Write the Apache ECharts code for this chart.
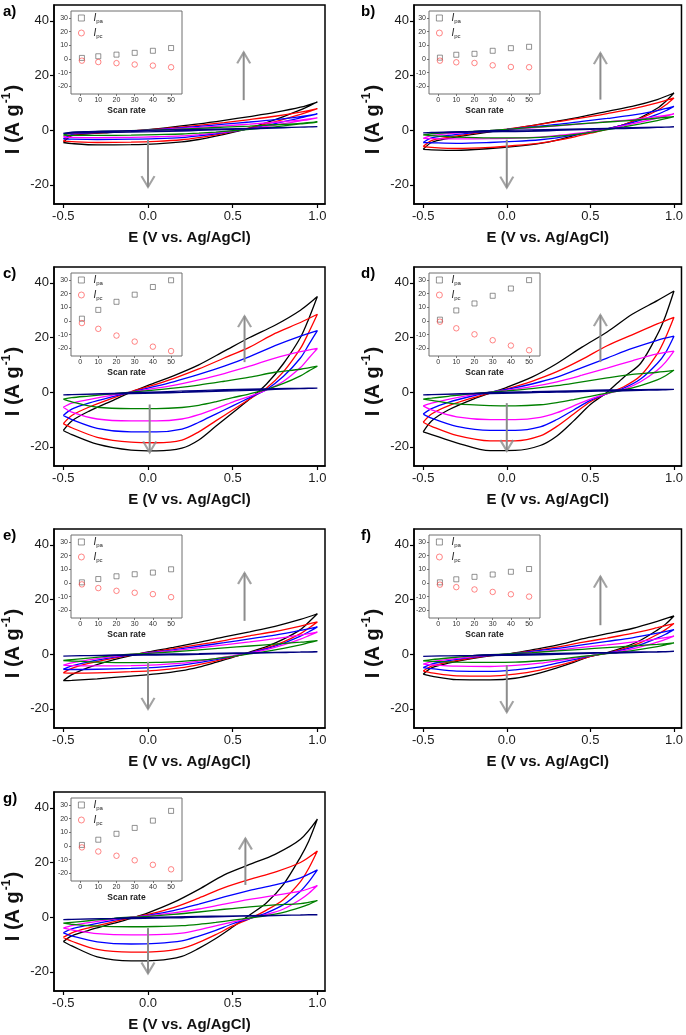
<!DOCTYPE html>
<html><head><meta charset="utf-8">
<script src="https://cdn.jsdelivr.net/npm/echarts@6/dist/echarts.min.js"></script>
<style>html,body{margin:0;padding:0;background:#fff}#c{width:686px;height:1035px}</style>
</head><body><div id="c"></div>
<script>
// ---------- shared axes / categories ----------
const FWD_X = [-0.5, -0.45, -0.35, -0.2, -0.1, 0, 0.15, 0.3, 0.45, 0.6, 0.75, 0.9, 1.0];
const REV_X = [0.95, 0.9, 0.8, 0.7, 0.6, 0.5, 0.4, 0.3, 0.2, 0.05, -0.1, -0.3, -0.45];
const CURVE_COLORS = ['#000080', '#008000', '#ff00ff', '#0000ff', '#ff0000', '#000000']; // 1,10,20,30,40,50
const SCAN_RATE = [1, 10, 20, 30, 40, 50];
const X_TICKS = [-0.5, 0, 0.5, 1.0];
const Y_TICKS = [-20, 0, 20, 40];
const INSET_X_TICKS = [0, 10, 20, 30, 40, 50];
const INSET_Y_TICKS = [-20, -10, 0, 10, 20, 30];
const PANEL_LABELS = ['a)', 'b)', 'c)', 'd)', 'e)', 'f)', 'g)'];

// ---------- panel a ----------
const A_FWD = [
  [-1.2, -0.7, -0.5, -0.3, -0.2, -0.1, 0.1, 0.3, 0.5, 0.7, 0.9, 1.1, 1.3],
  [-1.8, -0.9, -0.6, -0.4, -0.2, 0.0, 0.3, 0.7, 1.1, 1.5, 2.0, 2.5, 3.0],
  [-2.5, -1.2, -0.8, -0.5, -0.2, 0.0, 0.5, 1.0, 1.6, 2.2, 2.9, 3.7, 4.5],
  [-3.2, -1.5, -1.0, -0.6, -0.3, 0.0, 0.7, 1.4, 2.2, 3.0, 3.9, 5.0, 6.0],
  [-4.0, -1.8, -1.2, -0.7, -0.3, 0.1, 0.9, 1.8, 2.8, 3.9, 5.1, 6.6, 7.9],
  [-4.5, -2.0, -1.3, -0.8, -0.3, 0.2, 1.2, 2.3, 3.6, 5.0, 6.5, 8.4, 10.3]
];
const A_REV = [
  [1.2, 1.1, 0.9, 0.7, 0.5, 0.3, 0.1, -0.1, -0.3, -0.5, -0.7, -0.9, -1.1],
  [2.6, 2.3, 1.6, 0.9, 0.3, -0.2, -0.7, -1.1, -1.4, -1.6, -1.8, -1.9, -1.9],
  [3.9, 3.4, 2.4, 1.4, 0.5, -0.3, -1.0, -1.6, -2.1, -2.4, -2.6, -2.7, -2.6],
  [5.2, 4.5, 3.1, 1.8, 0.6, -0.4, -1.3, -2.1, -2.7, -3.1, -3.3, -3.4, -3.3],
  [6.8, 5.8, 4.0, 2.3, 0.8, -0.5, -1.7, -2.7, -3.5, -4.1, -4.4, -4.5, -4.2],
  [8.8, 7.4, 5.0, 2.8, 0.8, -0.8, -2.2, -3.4, -4.3, -5.0, -5.3, -5.4, -4.9]
];
const A_IPA = [0.8, 2.0, 3.2, 4.5, 6.0, 8.0];
const A_IPC = [-1.2, -2.2, -3.0, -4.0, -4.8, -6.0];
const A_ARROWS = [0.565, 11, 28.5, 0.0, -3.6, -20.8];

// ---------- panel b ----------
const B_FWD = [
  [-1.0, -0.8, -0.6, -0.4, -0.2, -0.1, 0.1, 0.3, 0.5, 0.7, 0.9, 1.1, 1.2],
  [-1.7, -1.3, -0.9, -0.4, -0.1, 0.3, 1.0, 1.7, 2.4, 3.0, 3.6, 4.4, 5.0],
  [-3.0, -2.0, -1.3, -0.6, -0.2, 0.2, 0.9, 1.6, 2.3, 3.1, 3.9, 5.0, 6.0],
  [-4.5, -2.8, -1.9, -0.9, -0.3, 0.3, 1.2, 2.1, 3.2, 4.3, 5.5, 7.2, 8.7],
  [-6.0, -3.8, -2.6, -1.2, -0.4, 0.4, 1.7, 3.1, 4.5, 6.1, 7.8, 10.0, 11.8],
  [-7.0, -4.5, -3.0, -1.5, -0.6, 0.2, 1.7, 3.3, 5.0, 6.9, 8.7, 11.2, 13.6]
];
const B_REV = [
  [1.1, 1.0, 0.8, 0.6, 0.5, 0.3, 0.1, -0.1, -0.3, -0.5, -0.6, -0.8, -0.9],
  [4.2, 3.5, 2.3, 1.2, 0.2, -0.8, -1.6, -2.2, -2.6, -2.8, -2.8, -2.5, -2.0],
  [5.1, 4.4, 3.0, 1.7, 0.5, -0.5, -1.3, -2.0, -2.5, -2.9, -3.1, -3.2, -3.1],
  [7.1, 5.8, 3.7, 1.9, 0.5, -0.7, -1.8, -2.8, -3.5, -4.1, -4.5, -4.8, -4.6],
  [9.2, 7.2, 4.3, 2.0, 0.3, -1.1, -2.5, -3.7, -4.7, -5.6, -6.3, -6.7, -6.3],
  [10.5, 8.0, 4.6, 2.0, 0.5, -0.5, -2.0, -3.6, -4.8, -5.9, -6.7, -7.4, -7.2]
];
const B_IPA = [1.0, 3.1, 3.8, 6.0, 7.9, 8.9];
const B_IPC = [-1.2, -2.4, -2.9, -4.6, -5.8, -6.0];
const B_ARROWS = [0.56, 11.2, 28.2, 0.0, -3.5, -21.0];

// ---------- panel c ----------
const C_FWD = [
  [-1.0, -0.9, -0.7, -0.4, -0.2, 0.0, 0.3, 0.6, 0.9, 1.1, 1.3, 1.4, 1.5],
  [-2.5, -2.0, -1.4, -0.5, 0.0, 0.6, 1.5, 2.6, 4.0, 5.5, 7.3, 8.4, 9.5],
  [-5.5, -4.0, -2.7, -1.0, 0.0, 1.0, 2.5, 4.5, 6.8, 9.5, 12.5, 14.8, 16.0],
  [-8.5, -6.2, -4.0, -1.5, 0.0, 1.5, 3.8, 6.5, 9.5, 13.0, 17.0, 20.5, 22.5],
  [-11.5, -8.5, -5.5, -2.0, 0.2, 2.0, 5.0, 8.5, 12.5, 16.5, 21.5, 25.5, 28.5],
  [-14.0, -10.5, -7.0, -2.8, 0.0, 2.5, 6.0, 10.0, 15.0, 20.0, 24.5, 30.0, 35.0]
];
const C_REV = [
  [1.4, 1.3, 1.1, 0.9, 0.7, 0.5, 0.3, 0.1, -0.1, -0.3, -0.5, -0.7, -0.9],
  [7.8, 6.0, 3.2, 1.0, -0.6, -2.0, -3.5, -4.8, -5.6, -6.0, -6.0, -5.5, -3.5],
  [12.5, 9.0, 4.0, 0.8, -1.5, -3.6, -6.0, -8.2, -9.8, -10.5, -10.5, -9.8, -7.3],
  [17.5, 12.5, 5.8, 1.0, -2.0, -5.0, -8.0, -11.0, -13.5, -14.5, -14.5, -13.2, -10.0],
  [22.0, 16.0, 7.5, 1.5, -2.5, -6.5, -10.5, -14.5, -17.5, -18.5, -18.3, -16.5, -13.0],
  [27.0, 20.0, 10.5, 3.0, -2.5, -7.5, -12.5, -17.5, -20.5, -21.5, -21.2, -19.0, -15.5]
];
const C_IPA = [1.7, 8.1, 14.0, 19.2, 24.8, 29.7];
const C_IPC = [-1.5, -5.7, -10.6, -15.0, -18.7, -21.9];
const C_ARROWS = [0.57, 11, 27.8, 0.01, -4.5, -22.0];

// ---------- panel d ----------
const D_FWD = [
  [-1.0, -0.9, -0.7, -0.4, -0.2, 0.0, 0.2, 0.4, 0.6, 0.8, 0.9, 1.0, 1.0],
  [-2.5, -2.2, -1.5, -0.5, 0.0, 0.5, 1.3, 2.4, 3.8, 5.2, 6.5, 7.3, 8.0],
  [-5.0, -4.0, -2.6, -0.9, 0.0, 0.7, 2.0, 3.8, 6.2, 8.8, 11.5, 14.0, 15.0],
  [-8.0, -6.0, -3.7, -1.3, 0.0, 1.0, 3.0, 5.5, 9.0, 12.5, 16.0, 19.0, 20.5],
  [-11.0, -8.0, -5.0, -2.0, -0.3, 1.2, 4.0, 7.5, 12.0, 17.0, 21.0, 25.0, 27.4],
  [-14.5, -10.5, -6.5, -2.5, -0.3, 1.8, 5.5, 10.5, 16.5, 22.0, 28.5, 33.5, 37.0]
];
const D_REV = [
  [0.9, 0.8, 0.7, 0.5, 0.4, 0.3, 0.1, 0.0, -0.1, -0.3, -0.5, -0.7, -0.9],
  [6.0, 4.5, 2.4, 0.8, -0.3, -1.5, -2.7, -3.8, -4.6, -5.0, -4.9, -4.3, -3.0],
  [11.0, 8.0, 3.8, 1.0, -0.5, -2.5, -5.0, -7.5, -9.2, -10.0, -10.0, -9.0, -6.5],
  [14.5, 10.5, 4.8, 1.5, -0.5, -3.0, -6.5, -10.0, -12.7, -14.0, -14.0, -12.5, -9.5],
  [20.0, 14.0, 6.0, 2.0, -0.5, -3.5, -8.0, -12.5, -16.0, -17.8, -17.8, -15.8, -12.5],
  [28.0, 21.0, 10.5, 5.5, 0.0, -4.5, -10.5, -16.0, -19.5, -21.3, -21.4, -18.5, -15.5]
];
const D_IPA = [1.0, 7.7, 12.8, 18.4, 23.7, 29.8];
const D_IPC = [-0.5, -5.3, -9.7, -14.0, -17.9, -21.3];
const D_ARROWS = [0.56, 11, 28.2, 0.0, -4.0, -21.5];

// ---------- panel e ----------
const E_FWD = [
  [-0.7, -0.6, -0.5, -0.3, -0.2, -0.1, 0.1, 0.2, 0.4, 0.5, 0.7, 0.8, 0.9],
  [-2.3, -2.0, -1.4, -0.5, 0.0, 0.3, 0.9, 1.6, 2.3, 3.0, 3.7, 4.4, 5.0],
  [-4.0, -3.2, -2.1, -0.8, -0.1, 0.4, 1.3, 2.3, 3.4, 4.5, 5.7, 7.0, 8.1],
  [-5.5, -4.3, -2.8, -1.1, -0.2, 0.5, 1.6, 2.9, 4.2, 5.6, 7.0, 8.7, 10.0],
  [-6.8, -5.2, -3.4, -1.4, -0.3, 0.6, 2.0, 3.5, 5.0, 6.7, 8.3, 10.3, 11.8],
  [-9.7, -7.5, -4.8, -2.0, -0.5, 0.8, 2.5, 4.3, 6.3, 8.2, 10.2, 12.7, 14.8]
];
const E_REV = [
  [0.8, 0.8, 0.6, 0.5, 0.3, 0.2, 0.1, -0.1, -0.2, -0.3, -0.4, -0.5, -0.6],
  [4.2, 3.4, 2.1, 1.0, 0.1, -0.8, -1.6, -2.2, -2.6, -3.0, -3.1, -2.9, -2.5],
  [6.8, 5.5, 3.4, 1.7, 0.4, -0.6, -1.6, -2.5, -3.3, -3.9, -4.2, -4.3, -4.2],
  [8.2, 6.6, 4.0, 2.0, 0.5, -0.8, -2.0, -3.1, -4.0, -4.8, -5.2, -5.5, -5.6],
  [9.6, 7.5, 4.5, 2.3, 0.5, -1.0, -2.5, -3.8, -4.9, -5.9, -6.4, -6.8, -6.9],
  [11.8, 9.0, 5.5, 2.8, 0.8, -1.2, -3.0, -4.7, -6.0, -7.2, -8.0, -9.0, -9.6]
];
const E_IPA = [0.5, 2.9, 4.9, 6.4, 7.6, 10.0];
const E_IPC = [-1.0, -3.7, -5.7, -7.1, -8.1, -10.3];
const E_ARROWS = [0.57, 12.2, 29.7, 0.0, -2.8, -20.0];

// ---------- panel f ----------
const F_FWD = [
  [-0.8, -0.7, -0.6, -0.4, -0.2, -0.1, 0.1, 0.3, 0.5, 0.6, 0.8, 0.9, 1.0],
  [-2.4, -2.0, -1.4, -0.6, -0.2, 0.1, 0.6, 1.2, 1.8, 2.4, 3.0, 3.6, 4.1],
  [-3.6, -2.8, -1.9, -0.9, -0.3, 0.0, 0.7, 1.5, 2.5, 3.4, 4.4, 5.6, 6.6],
  [-4.9, -3.6, -2.4, -1.1, -0.4, 0.0, 1.0, 2.1, 3.4, 4.7, 6.0, 7.7, 9.0],
  [-6.2, -4.4, -2.9, -1.3, -0.5, 0.0, 1.2, 2.6, 4.3, 5.9, 7.6, 9.7, 11.2],
  [-7.3, -5.0, -3.3, -1.5, -0.6, 0.0, 1.6, 3.3, 5.6, 7.5, 9.4, 12.0, 14.0]
];
const F_REV = [
  [0.9, 0.8, 0.7, 0.5, 0.4, 0.3, 0.1, -0.1, -0.2, -0.4, -0.5, -0.6, -0.7],
  [3.4, 2.8, 1.8, 0.9, 0.2, -0.5, -1.2, -1.9, -2.4, -2.9, -3.0, -2.9, -2.6],
  [5.4, 4.4, 2.7, 1.3, 0.3, -0.5, -1.5, -2.4, -3.3, -4.1, -4.5, -4.4, -3.9],
  [7.3, 5.9, 3.5, 1.7, 0.4, -0.6, -2.0, -3.3, -4.6, -5.7, -6.3, -6.2, -5.3],
  [9.0, 7.2, 4.2, 2.0, 0.4, -0.8, -2.6, -4.3, -5.8, -7.3, -8.0, -7.9, -6.8],
  [11.0, 8.8, 5.1, 2.5, 0.6, -0.8, -3.0, -5.0, -6.8, -8.8, -9.4, -9.3, -8.0]
];
const F_IPA = [0.5, 2.7, 4.5, 6.2, 8.2, 10.2];
const F_IPC = [-1.2, -3.0, -4.7, -6.5, -8.2, -9.9];
const F_ARROWS = [0.56, 10.6, 28.4, 0.0, -4.0, -21.2];

// ---------- panel g ----------
const G_FWD = [
  [-0.9, -0.8, -0.6, -0.4, -0.2, -0.1, 0.1, 0.3, 0.4, 0.6, 0.7, 0.8, 0.9],
  [-2.2, -1.9, -1.3, -0.4, 0.0, 0.3, 1.0, 1.9, 2.9, 3.8, 4.5, 5.0, 6.1],
  [-4.0, -3.1, -2.0, -0.7, 0.0, 0.5, 1.6, 3.0, 4.8, 6.5, 8.0, 9.5, 11.6],
  [-5.7, -4.3, -2.9, -1.1, -0.1, 0.7, 2.4, 4.8, 7.4, 9.8, 11.8, 14.4, 17.3],
  [-7.4, -5.7, -3.9, -1.6, -0.2, 1.0, 3.5, 7.0, 10.8, 13.8, 16.5, 20.0, 24.2],
  [-8.9, -6.8, -4.8, -2.2, -0.4, 1.6, 5.4, 10.2, 15.5, 19.3, 23.0, 28.5, 35.9]
];
const G_REV = [
  [0.9, 0.8, 0.7, 0.5, 0.4, 0.3, 0.1, 0.0, -0.2, -0.3, -0.5, -0.6, -0.8],
  [4.7, 3.6, 1.8, 0.6, -0.3, -1.1, -1.9, -2.6, -3.1, -3.4, -3.5, -3.3, -2.6],
  [8.8, 6.5, 3.0, 1.0, -0.4, -1.7, -3.2, -4.6, -5.8, -6.4, -6.5, -6.0, -4.6],
  [13.0, 9.5, 4.6, 1.6, -0.5, -2.4, -4.8, -6.9, -8.7, -9.6, -9.8, -9.0, -6.8],
  [18.0, 13.0, 6.5, 2.6, -0.5, -3.2, -6.4, -9.2, -11.4, -12.6, -12.8, -11.8, -8.8],
  [28.0, 22.0, 12.0, 5.3, 0.8, -3.6, -7.8, -11.4, -14.3, -15.8, -16.0, -14.5, -10.5]
];
const G_IPA = [0.8, 4.6, 8.9, 13.2, 18.5, 25.6];
const G_IPC = [-1.0, -4.0, -7.1, -10.4, -13.7, -17.0];
const G_ARROWS = [0.575, 11.8, 28.8, 0.0, -4.0, -20.6];

const PANELS = [
  [A_FWD, A_REV, A_IPA, A_IPC, A_ARROWS],
  [B_FWD, B_REV, B_IPA, B_IPC, B_ARROWS],
  [C_FWD, C_REV, C_IPA, C_IPC, C_ARROWS],
  [D_FWD, D_REV, D_IPA, D_IPC, D_ARROWS],
  [E_FWD, E_REV, E_IPA, E_IPC, E_ARROWS],
  [F_FWD, F_REV, F_IPA, F_IPC, F_ARROWS],
  [G_FWD, G_REV, G_IPA, G_IPC, G_ARROWS]
];

// ---------- layout ----------
const FONT = '"Liberation Sans", Arial, sans-serif';
const COL_LEFT = [54, 414], COL_W = [271, 268];
const ROW_TOP = [5, 267, 529, 792], GRID_H = 199;
const INSET_LEFT = [71, 429], INSET_W = 111, INSET_H = 83, INSET_DY = 6;
const ARROW_COLOR = '#8c8c8c';
const UP_HEAD = 'path://M0,11 L6,0 L12,11';
const DOWN_HEAD = 'path://M0,0 L6,11 L12,0';
const SQ_STYLE = { color: 'rgba(0,0,0,0)', borderColor: '#555', borderWidth: 0.8 };
const CI_STYLE = { color: 'rgba(0,0,0,0)', borderColor: '#ff4040', borderWidth: 0.8 };

function loop(fwd, rev) {
  const pts = FWD_X.map((x, j) => [x, fwd[j]]);
  REV_X.forEach((x, j) => pts.push([x, rev[j]]));
  pts.push([FWD_X[0], fwd[0]]);
  return pts;
}

const grid = [], xAxis = [], yAxis = [], series = [], legend = [], graphic = [];

PANELS.forEach((p, i) => {
  const [fwd, rev, ipa, ipc, ar] = p;
  const col = i % 2, row = Math.floor(i / 2);
  const gl = COL_LEFT[col], gt = ROW_TOP[row];
  const mi = 2 * i, ii = 2 * i + 1;
  grid.push({ left: gl, top: gt, width: COL_W[col], height: GRID_H, show: true, borderColor: '#000', borderWidth: 1.5, backgroundColor: '#fff' });
  const il = INSET_LEFT[col], it = gt + INSET_DY;
  grid.push({ left: il, top: it, width: INSET_W, height: INSET_H, show: true, borderColor: '#6e6e6e', borderWidth: 1, backgroundColor: '#fff' });

  xAxis.push({
    type: 'value', gridIndex: mi, min: -0.555, max: 1.045,
    axisLine: { show: true, onZero: false, lineStyle: { color: '#000', width: 1.5 } },
    axisTick: { show: true, customValues: X_TICKS, length: 4, lineStyle: { color: '#000', width: 1.2 } },
    axisLabel: { customValues: X_TICKS, formatter: v => Number(v).toFixed(1), fontSize: 13, color: '#1a1a1a', margin: 6, fontFamily: FONT },
    splitLine: { show: false },
    name: 'E (V vs. Ag/AgCl)', nameLocation: 'middle', nameGap: 26,
    nameTextStyle: { fontWeight: 'bold', fontSize: 15, color: '#111', fontFamily: FONT }
  });
  yAxis.push({
    type: 'value', gridIndex: mi, min: -27, max: 45.8,
    axisLine: { show: true, onZero: false, lineStyle: { color: '#000', width: 1.5 } },
    axisTick: { show: true, customValues: Y_TICKS, length: 4, lineStyle: { color: '#000', width: 1.2 } },
    axisLabel: { customValues: Y_TICKS, fontSize: 13, color: '#1a1a1a', margin: 5, fontFamily: FONT },
    splitLine: { show: false },
    name: '{t|I (A g}{s|-1}{t|)}', nameLocation: 'middle', nameGap: 29,
    nameTextStyle: {
      padding: [0, 30, 0, 0],
      rich: {
        t: { fontSize: 20, fontWeight: 'bold', color: '#111', fontFamily: FONT, lineHeight: 24 },
        s: { fontSize: 12, fontWeight: 'bold', color: '#111', fontFamily: FONT, verticalAlign: 'top', lineHeight: 24, padding: [0, 1, 9, 1] }
      }
    }
  });
  xAxis.push({
    type: 'value', gridIndex: ii, min: -5, max: 56,
    axisLine: { show: false, onZero: false },
    axisTick: { show: true, customValues: INSET_X_TICKS, length: 2, lineStyle: { color: '#555', width: 0.8 } },
    axisLabel: { customValues: INSET_X_TICKS, fontSize: 7, color: '#333', margin: 3, fontFamily: FONT },
    splitLine: { show: false },
    name: 'Scan rate', nameLocation: 'middle', nameGap: 12,
    nameTextStyle: { fontWeight: 'bold', fontSize: 8.5, color: '#222', fontFamily: FONT }
  });
  yAxis.push({
    type: 'value', gridIndex: ii, min: -25.5, max: 35,
    axisLine: { show: false, onZero: false },
    axisTick: { show: true, customValues: INSET_Y_TICKS, length: 2, lineStyle: { color: '#555', width: 0.8 } },
    axisLabel: { customValues: INSET_Y_TICKS, fontSize: 7, color: '#333', margin: 3, fontFamily: FONT },
    splitLine: { show: false }
  });

  for (let k = 5; k >= 0; k--) {
    series.push({
      type: 'line', xAxisIndex: mi, yAxisIndex: mi, data: loop(fwd[k], rev[k]),
      showSymbol: false, symbol: 'none', smooth: 0.3, silent: true,
      lineStyle: { color: CURVE_COLORS[k], width: 1.3 }, z: 3
    });
  }
  // arrows
  [[ar[0], ar[1], ar[2], UP_HEAD, 5.5], [ar[3], ar[4], ar[5], DOWN_HEAD, -5.5]].forEach(a => {
    series.push({
      type: 'line', xAxisIndex: mi, yAxisIndex: mi, data: [[a[0], a[1]], [a[0], a[2]]],
      symbol: 'none', silent: true, lineStyle: { color: ARROW_COLOR, width: 2 }, z: 5
    });
    series.push({
      type: 'scatter', xAxisIndex: mi, yAxisIndex: mi, data: [[a[0], a[2]]],
      symbol: a[3], symbolSize: [13, 11], symbolOffset: [0, a[4]], silent: true,
      itemStyle: { color: 'rgba(0,0,0,0)', borderColor: ARROW_COLOR, borderWidth: 2 }, z: 5
    });
  });
  // inset
  series.push({
    name: 'Ipa', type: 'scatter', xAxisIndex: ii, yAxisIndex: ii,
    data: SCAN_RATE.map((s, j) => [s, ipa[j]]), symbol: 'rect', symbolSize: 5,
    itemStyle: SQ_STYLE, z: 6
  });
  series.push({
    name: 'Ipc', type: 'scatter', xAxisIndex: ii, yAxisIndex: ii,
    data: SCAN_RATE.map((s, j) => [s, ipc[j]]), symbol: 'circle', symbolSize: 5.5,
    itemStyle: CI_STYLE, z: 6
  });
  legend.push({
    left: il + 7, top: it + 1, orient: 'vertical', itemWidth: 6, itemHeight: 6, itemGap: 3,
    selectedMode: false, padding: 0,
    data: [{ name: 'Ipa', icon: 'rect', itemStyle: SQ_STYLE }, { name: 'Ipc', icon: 'circle', itemStyle: CI_STYLE }],
    formatter: n => n === 'Ipa' ? '{i|I}{s|pa}' : '{i|I}{s|pc}',
    textStyle: {
      rich: {
        i: { fontSize: 10, fontStyle: 'italic', color: '#222', fontFamily: FONT, padding: [0, 0, 0, 4], lineHeight: 12 },
        s: { fontSize: 6, color: '#222', fontFamily: FONT, verticalAlign: 'bottom', lineHeight: 12, padding: [6, 0, 0, 0] }
      }
    }
  });
  graphic.push({
    type: 'text', left: col === 0 ? 3 : 361, top: gt - 1,
    style: { text: PANEL_LABELS[i], font: 'bold 15px ' + FONT, fill: '#000' }
  });
});

const chart = echarts.init(document.getElementById('c'), null, { renderer: 'canvas' });
chart.setOption({ animation: false, backgroundColor: '#fff', grid, xAxis, yAxis, series, legend, graphic });
</script></body></html>
